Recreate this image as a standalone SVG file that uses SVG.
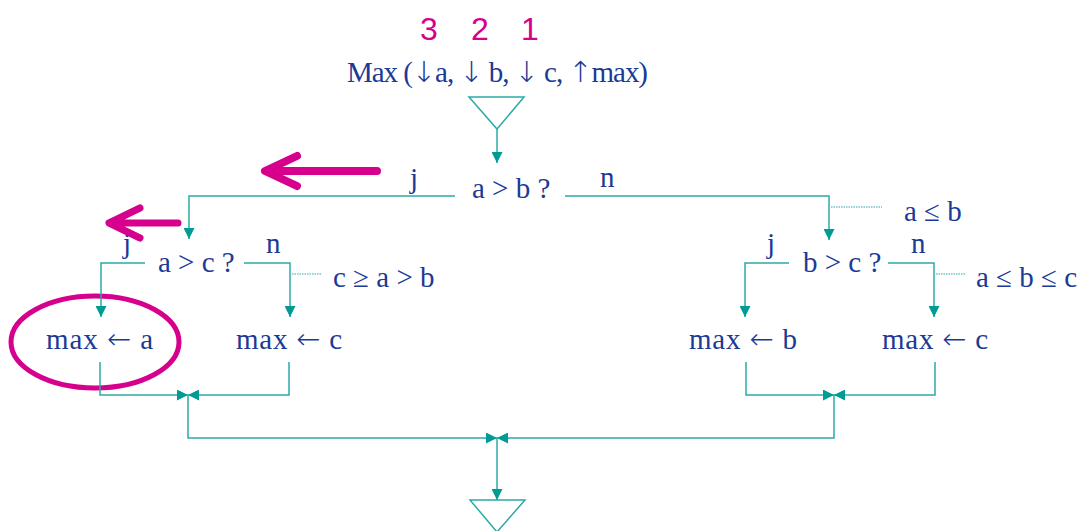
<svg xmlns="http://www.w3.org/2000/svg" width="1086" height="531" viewBox="0 0 1086 531">
<style>
.t{font-family:"Liberation Serif","Times New Roman",serif;font-size:29px;fill:#1b3a95}
.ar{font-family:"DejaVu Sans",sans-serif;font-weight:200;font-size:29px;fill:#1b3a95}
.n{font-family:"Liberation Sans",Arial,sans-serif;font-size:32px;fill:#d6008c;text-anchor:middle}
.c{fill:none;stroke:#2aaba6;stroke-width:1.5}
.d{fill:none;stroke:#2aaba6;stroke-width:1.2;stroke-dasharray:1.5 1}
.m{fill:none;stroke:#d6008c;stroke-linecap:round;stroke-linejoin:round}
</style>
<defs>
<marker id="ah" viewBox="0 0 10 10" refX="10" refY="5" markerUnits="userSpaceOnUse" markerWidth="11" markerHeight="11" orient="auto">
<path d="M0,0 L10,5 L0,10 z" fill="#009b93"/>
</marker>
</defs>
<rect width="1086" height="531" fill="#ffffff"/>
<g id="header">
<text class="n" x="429" y="40">3</text>
<text class="n" x="480" y="40">2</text>
<text class="n" x="530" y="40">1</text>
<text class="t" x="347" y="82" textLength="301" lengthAdjust="spacing">Max (<tspan class="ar">↓</tspan>a, <tspan class="ar">↓</tspan> b, <tspan class="ar">↓</tspan> c, <tspan class="ar">↑</tspan>max)</text>
</g>
<g id="start">
<polygon class="c" points="469,97 524,97 497,129"/>
</g>
<g id="cond_ab">
<text class="t" x="472" y="198">a &gt; b ?</text>
</g>
<g id="cond_ac">
<text class="t" x="158" y="272">a &gt; c ?</text>
</g>
<g id="cond_bc">
<text class="t" x="803" y="272">b &gt; c ?</text>
</g>
<g id="assign_a">
<text class="t" x="46" y="349" textLength="107" lengthAdjust="spacing">max <tspan class="ar">←</tspan> a</text>
<ellipse class="m" cx="95" cy="342" rx="84" ry="46" stroke-width="5"/>
</g>
<g id="assign_c1">
<text class="t" x="236" y="349" textLength="106" lengthAdjust="spacing">max <tspan class="ar">←</tspan> c</text>
</g>
<g id="assign_b">
<text class="t" x="689" y="349" textLength="108" lengthAdjust="spacing">max <tspan class="ar">←</tspan> b</text>
</g>
<g id="assign_c2">
<text class="t" x="882" y="349" textLength="106" lengthAdjust="spacing">max <tspan class="ar">←</tspan> c</text>
</g>
<g id="end">
<polygon class="c" points="470,500 525,500 497,532"/>
</g>
<g id="connectors">
<path class="c" d="M497,129 L497,163" marker-end="url(#ah)"/>
<path class="c" d="M455,196 L189,196 L189,239" marker-end="url(#ah)"/>
<path class="c" d="M565,196 L829,196 L829,240" marker-end="url(#ah)"/>
<path class="d" d="M831,207 L882,207"/>
<path class="c" d="M145,263 L101,263 L101,317" marker-end="url(#ah)"/>
<path class="c" d="M244,263 L290,263 L290,317" marker-end="url(#ah)"/>
<path class="d" d="M292,274 L322,274"/>
<path class="c" d="M789,263 L745,263 L745,317" marker-end="url(#ah)"/>
<path class="c" d="M888,263 L934,263 L934,317" marker-end="url(#ah)"/>
<path class="d" d="M936,274 L966,274"/>
<path class="c" d="M100,362 L100,395 L188,395" marker-end="url(#ah)"/>
<path class="c" d="M289,362 L289,395 L188,395" marker-end="url(#ah)"/>
<path class="c" d="M746,362 L746,395 L834,395" marker-end="url(#ah)"/>
<path class="c" d="M935,362 L935,395 L834,395" marker-end="url(#ah)"/>
<path class="c" d="M188,395 L188,438 L497,438" marker-end="url(#ah)"/>
<path class="c" d="M834,395 L834,438 L497,438" marker-end="url(#ah)"/>
<path class="c" d="M497,438 L497,500" marker-end="url(#ah)"/>
<text class="t" x="410" y="188">j</text>
<text class="t" x="600" y="187">n</text>
<text class="t" x="904" y="221">a ≤ b</text>
<text class="t" x="123" y="253">j</text>
<text class="t" x="266" y="253">n</text>
<text class="t" x="333" y="287">c ≥ a &gt; b</text>
<text class="t" x="767" y="253">j</text>
<text class="t" x="911" y="253">n</text>
<text class="t" x="976" y="287">a ≤ b ≤ c</text>
</g>
<g id="annotations">
<path class="m" stroke-width="8" d="M377,171 L268,171 M297,156 L265,171 L297,186"/>
<path class="m" stroke-width="7" d="M178,223 L112,223 M140,208 L109,223 L140,238"/>
</g>
</svg>
